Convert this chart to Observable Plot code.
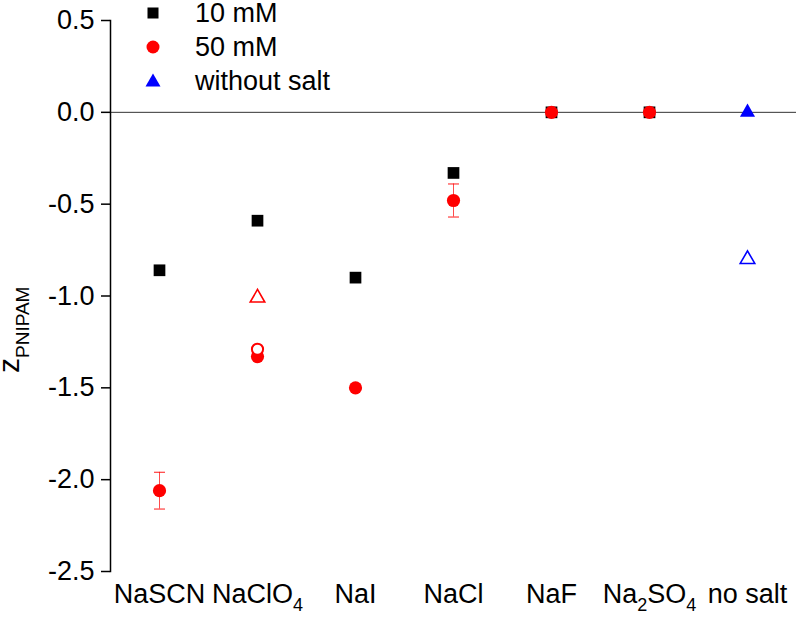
<!DOCTYPE html>
<html>
<head>
<meta charset="utf-8">
<script src="https://cdn.jsdelivr.net/npm/d3@7"></script>
<script src="https://cdn.jsdelivr.net/npm/@observablehq/plot@0.6"></script>
<style>
  body { margin: 0; background: #fff; font-family: "Liberation Sans", Arial, sans-serif; }
  #wrap { position: relative; width: 796px; height: 630px; }
  #legend { position: absolute; left: 0; top: 0; width: 400px; height: 100px; }
  .lrow { position: absolute; left: 144px; height: 26px; line-height: 26px; display: flex; align-items: center; font-size: 27px; color: #000; white-space: nowrap; }
  .lrow svg { flex: none; width: 18px; height: 18px; margin-right: 33px; }
</style>
</head>
<body>
<div id="wrap"></div>
<script>
// ---- data ----
const categories = ["NaSCN", "NaClO4", "NaI", "NaCl", "NaF", "Na2SO4", "no salt"];
const z10mM        = [-0.86, -0.59, -0.90, -0.33, 0.00, 0.00, null];
const z50mM        = [-2.06, -1.33, -1.50, -0.48, 0.00, 0.00, null];
const err50Low     = [-2.16, null, null, -0.57, null, null, null];
const err50High    = [-1.96, null, null, -0.39, null, null, null];
const open50Circle   = [null, -1.29, null, null, null, null, null];
const open50Triangle = [null, -1.01, null, null, null, null, null];
const noSaltFilled = [null, null, null, null, null, null, 0.00];
const noSaltOpen   = [null, null, null, null, null, null, -0.80];
const yTicks = [0.5, 0.0, -0.5, -1.0, -1.5, -2.0, -2.5];
const legendLabels = ["10 mM", "50 mM", "without salt"];

const rows = categories.map((c, i) => ({
  cat: c,
  z10: z10mM[i], z50: z50mM[i],
  lo: err50Low[i], hi: err50High[i],
  oc: open50Circle[i], ot: open50Triangle[i],
  nf: noSaltFilled[i], no: noSaltOpen[i]
}));
const errRows = rows.filter(d => d.lo != null);

const capSymbol = { draw(ctx) { ctx.moveTo(-5.5, 0); ctx.lineTo(5.5, 0); } };

const chart = Plot.plot({
  width: 796,
  height: 630,
  marginLeft: 110,
  marginRight: 0,
  marginTop: 20,
  marginBottom: 59,
  style: { fontFamily: "'Liberation Sans', Arial, sans-serif", background: "#fff" },
  x: { type: "point", domain: categories, padding: 0.5 },
  y: { domain: [-2.5, 0.5] },
  marks: [
    Plot.ruleY([0], { stroke: "#333", strokeWidth: 1 }),
    Plot.frame({ anchor: "left", stroke: "#000", strokeWidth: 1.5 }),
    Plot.axisY({ ticks: yTicks, tickFormat: d => d.toFixed(1), tickSize: 9, tickPadding: 7, fontSize: 27, label: null, strokeWidth: 1.5 }),
    Plot.axisX({ tickSize: 0, tickPadding: 12, fontSize: 27, label: null }),
    // error bars (50 mM)
    Plot.ruleX(errRows, { x: "cat", y1: "lo", y2: "hi", stroke: "#ff0000", strokeOpacity: 0.7, strokeWidth: 1 }),
    Plot.dot(errRows, { x: "cat", y: "lo", symbol: capSymbol, stroke: "#ff0000", strokeOpacity: 0.7, strokeWidth: 1.3 }),
    Plot.dot(errRows, { x: "cat", y: "hi", symbol: capSymbol, stroke: "#ff0000", strokeOpacity: 0.7, strokeWidth: 1.3 }),
    // 10 mM squares
    Plot.dot(rows, { x: "cat", y: "z10", symbol: "square", r: 6.6, fill: "#000" }),
    // 50 mM filled circles
    Plot.dot(rows, { x: "cat", y: "z50", symbol: "circle", r: 6.6, fill: "#ff0000" }),
    // 50 mM open symbols
    Plot.dot(rows, { x: "cat", y: "oc", symbol: "circle", r: 5.6, fill: "#fff", stroke: "#ff0000", strokeWidth: 2 }),
    Plot.dot(rows, { x: "cat", y: "ot", symbol: "triangle", r: 5.4, fill: "none", stroke: "#ff0000", strokeWidth: 1.6 }),
    // without salt
    Plot.dot(rows, { x: "cat", y: "nf", symbol: "triangle", r: 5.6, fill: "#0000ff" }),
    Plot.dot(rows, { x: "cat", y: "no", symbol: "triangle", r: 5.4, fill: "none", stroke: "#0000ff", strokeWidth: 1.6 })
  ]
});

// subscripts in the x tick labels
d3.select(chart).selectAll('[aria-label="x-axis tick label"] text').each(function () {
  const t = d3.select(this);
  const s = t.text();
  t.text(null);
  const parts = s.split(/(\d)/).filter(p => p !== "");
  let sub = false;
  parts.forEach(p => {
    const isDigit = /^\d$/.test(p);
    const ts = t.append("tspan").text(p);
    if (isDigit) { ts.attr("font-size", 18).attr("dy", sub ? 0 : 8); sub = true; }
    else if (sub) { ts.attr("dy", -8); sub = false; }
  });
});

// y-axis title z_PNIPAM
const yl = d3.select(chart).append("text")
  .attr("transform", "translate(19,373) rotate(-90)")
  .attr("text-anchor", "start")
  .attr("font-family", "'Liberation Sans', Arial, sans-serif")
  .attr("fill", "#000");
yl.append("tspan").attr("font-size", 30).text("z");
yl.append("tspan").attr("font-size", 19).attr("dy", 10).text("PNIPAM");

const wrap = document.getElementById("wrap");
wrap.appendChild(chart);

// legend
const legend = document.createElement("div");
legend.id = "legend";
const legendSymbols = [
  '<svg viewBox="-9 -9 18 18"><rect x="-5.5" y="-5.5" width="11" height="11" fill="#000"/></svg>',
  '<svg viewBox="-9 -9 18 18"><circle r="6.5" fill="#ff0000"/></svg>',
  '<svg viewBox="-9 -9 18 18"><path d="M0,-7.5L7.5,5.5L-7.5,5.5Z" fill="#0000ff"/></svg>'
];
const legendTops = [0, 34, 68];
legendLabels.forEach((lab, i) => {
  const r = document.createElement("div");
  r.className = "lrow";
  r.style.top = legendTops[i] + "px";
  r.innerHTML = legendSymbols[i] + "<span>" + lab + "</span>";
  legend.appendChild(r);
});
wrap.appendChild(legend);
</script>
</body>
</html>
